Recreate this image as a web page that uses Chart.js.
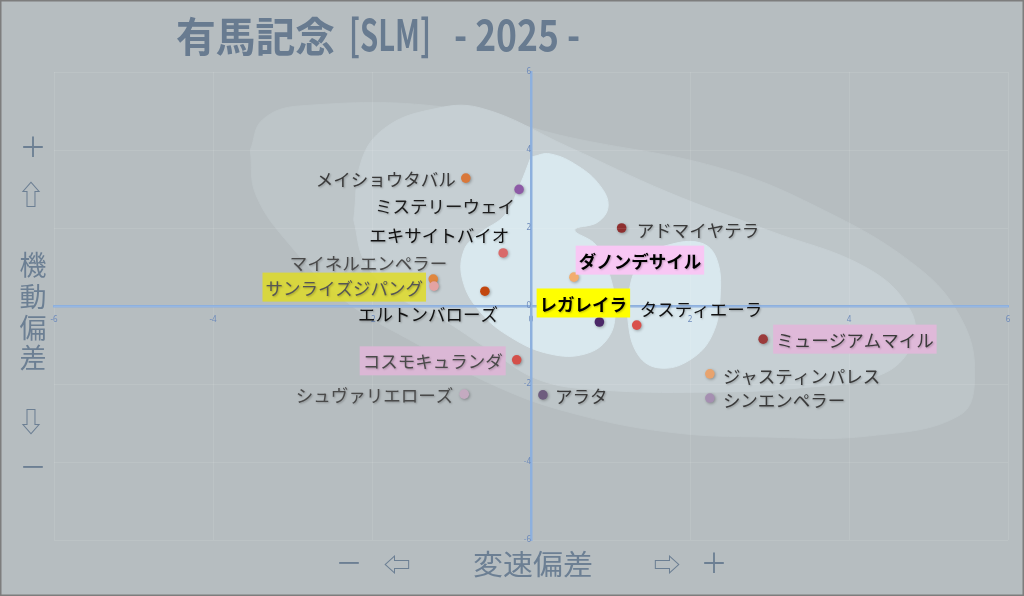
<!DOCTYPE html>
<html>
<head>
<meta charset="utf-8">
<script src="https://cdn.jsdelivr.net/npm/chart.js@4.4.1/dist/chart.umd.min.js"></script>
<style>
html, body { margin: 0; padding: 0; background: #b6bdc0; }
#wrap { width: 1024px; height: 596px; }
</style>
</head>
<body>
<div id="wrap"><canvas id="slmChart" width="1024" height="596"></canvas></div>
<script>
// horses and their deviations (x: 変速偏差, y: 機動偏差)
var horseNames = ['メイショウタバル', 'ミステリーウェイ', 'エキサイトバイオ', 'マイネルエンペラー',
    'サンライズジパング', 'エルトンバローズ', 'レガレイラ', 'ダノンデサイル', 'アドマイヤテラ',
    'タスティエーラ', 'ミュージアムマイル', 'ジャスティンパレス', 'シンエンペラー',
    'コスモキュランダ', 'シュヴァリエローズ', 'アラタ'];
var speedDev = [-0.82, -0.15, -0.35, -1.23, -1.22, -0.58, 0.86, 0.54, 1.14, 1.33, 2.92, 2.25, 2.25, -0.18, -0.84, 0.15];
var mobilityDev = [3.28, 2.99, 1.36, 0.69, 0.51, 0.38, -0.41, 0.74, 2.0, -0.49, -0.85, -1.74, -2.36, -1.38, -2.26, -2.28];
var tickValues = [-6, -4, -2, 0, 2, 4, 6];

// density contours [x, y]
var contourOuter = [[-3.53, 4.0], [-3.38, 4.77], [-2.91, 5.13], [-1.09, 5.10], [0.47, 4.33], [2.34, 3.56],
    [3.60, 2.54], [4.86, 1.0], [5.42, -0.36], [5.58, -1.77], [5.40, -2.79], [4.26, -3.33], [2.97, -3.36],
    [1.72, -3.23], [0.47, -2.72], [-0.47, -2.03], [-1.41, -1.0], [-2.35, 0.15], [-3.03, 1.56], [-3.46, 2.85]];
var contourMiddle = [[-2.23, 2.21], [-2.13, 3.74], [-1.84, 4.56], [-1.27, 5.03], [-0.64, 5.08], [0.47, 4.08],
    [1.72, 2.92], [2.97, 1.95], [4.23, 0.97], [4.77, -0.10], [4.79, -1.0], [4.39, -1.77], [3.38, -2.10],
    [2.13, -2.21], [0.87, -2.15], [0.11, -1.90], [-0.52, -1.13], [-1.14, -0.31], [-1.71, 0.28], [-2.09, 1.13]];
var contourInner = [[0, 3.82], [0.24, 3.90], [0.59, 3.59], [0.87, 3.08], [0.97, 2.56], [0.84, 2.15],
    [0.55, 1.95], [0.82, 1.56], [0.99, 0.79], [1.06, -0.10], [0.97, -0.82], [0.68, -1.23], [0.24, -1.23],
    [-0.24, -0.82], [-0.64, -0.15], [-0.86, 0.67], [-0.84, 1.44], [-0.64, 1.87], [-0.33, 2.33], [-0.14, 3.10]];
var contourInnerRight = [[1.37, 1.23], [1.72, 1.56], [2.13, 1.62], [2.33, 1.23], [2.38, 0.28], [2.28, -0.74],
    [2.0, -1.38], [1.62, -1.59], [1.35, -1.26], [1.22, -0.36], [1.25, 0.54]];

var pointColors = ['#d9783a', '#8d5aa6', '#d96a6a', '#e0873f', '#e3a3a3', '#c2460e', '#4b2868', '#f2ad6e',
    '#8e2f2f', '#d9504c', '#9b3b3b', '#e8a36e', '#a58fb1', '#d4504a', '#c4aac0', '#6e5c7e'];

// label placement next to each point
var labelStyle = [
    {dx: -10, dy: 0, align: 'right', color: '#3a3a3a'},
    {dx: -4, dy: 16, align: 'right', color: '#1e1e1e'},
    {dx: 6, dy: -19, align: 'right', color: '#111'},
    {dx: 14, dy: -17, align: 'right', color: '#4a4a4a'},
    {dx: -11, dy: 1, align: 'right', color: '#555', bg: 'rgba(222,218,40,0.85)'},
    {dx: 13, dy: 22, align: 'right', color: '#111'},
    {dx: -16, dy: -19, align: 'center', color: '#000', bg: '#ffff00', bold: true},
    {dx: 66, dy: -17, align: 'center', color: '#000', bg: '#f8c7f4', bold: true},
    {dx: 15, dy: 1, align: 'left', color: '#3a3a3a'},
    {dx: 3, dy: -17, align: 'left', color: '#111'},
    {dx: 13, dy: 0, align: 'left', color: '#3a3a3a', bg: '#dfb9d9'},
    {dx: 13, dy: 1, align: 'left', color: '#3a3a3a'},
    {dx: 13, dy: 1, align: 'left', color: '#3a3a3a'},
    {dx: -14, dy: 1, align: 'right', color: '#4a4a4a', bg: '#dbb7d5'},
    {dx: -11, dy: 0, align: 'right', color: '#4a4a4a'},
    {dx: 12, dy: 0, align: 'left', color: '#3a3a3a'}
];

var jpFont = '"Noto Sans CJK JP", "DejaVu Sans", sans-serif';

function contourSet(pts, color, ord) {
    var closed = pts.concat([pts[0]]);
    return {
        data: closed.map(function(p) { return {x: p[0], y: p[1]}; }),
        showLine: true,
        fill: 'shape',
        backgroundColor: color,
        borderColor: color,
        borderWidth: 1,
        pointRadius: 0,
        tension: 0.4,
        order: ord
    };
}

// draw text squeezed into a given width
function fitText(ctx, txt, x, y, w) {
    var m = ctx.measureText(txt).width;
    ctx.save();
    ctx.translate(x, y);
    ctx.scale(w / m, 1);
    ctx.fillText(txt, 0, 0);
    ctx.restore();
}

var decorPlugin = {
    id: 'decor',
    beforeDraw: function(chart) {
        var ctx = chart.ctx;
        ctx.save();
        ctx.fillStyle = '#b6bdc0';
        ctx.fillRect(0, 0, chart.width, chart.height);
        ctx.restore();
    },
    beforeDatasetDraw: function(chart, args) {
        // soft shadow under the horse points only
        if (args.index === 4) {
            chart.ctx.save();
            chart.ctx.shadowColor = 'rgba(0,0,0,0.3)';
            chart.ctx.shadowBlur = 3;
            chart.ctx.shadowOffsetX = 1;
            chart.ctx.shadowOffsetY = 1;
        }
    },
    afterDatasetDraw: function(chart, args) {
        if (args.index === 4) {
            chart.ctx.restore();
        }
    },
    afterDraw: function(chart) {
        var ctx = chart.ctx;
        var xs = chart.scales.x, ys = chart.scales.y;
        ctx.save();

        // title
        ctx.fillStyle = '#687b90';
        ctx.textBaseline = 'middle';
        ctx.textAlign = 'left';
        ctx.font = 'bold 41px ' + jpFont;
        fitText(ctx, '有馬記念', 176, 36, 159);
        ctx.font = 'bold 43px ' + jpFont;
        fitText(ctx, '[SLM]', 349, 35, 82);
        fitText(ctx, '- 2025 -', 454, 35, 126);

        // axis captions
        ctx.fillStyle = '#6c7f93';
        ctx.textAlign = 'center';
        ctx.font = '27px ' + jpFont;
        ctx.fillText('＋', 33, 147);
        ctx.fillText('⇧', 31, 195);
        ctx.fillText('機', 33, 265);
        ctx.fillText('動', 33, 297);
        ctx.fillText('偏', 33, 328);
        ctx.fillText('差', 33, 358);
        ctx.fillText('⇩', 31, 422);
        ctx.fillText('－', 33, 467);
        ctx.fillText('－', 349, 563);
        ctx.fillText('⇦', 397, 565);
        ctx.fillText('⇨', 667, 565);
        ctx.fillText('＋', 714, 563);
        ctx.textAlign = 'left';
        ctx.font = '28px ' + jpFont;
        fitText(ctx, '変速偏差', 473, 564, 120);

        // horse labels
        ctx.textBaseline = 'middle';
        horseNames.forEach(function(name, i) {
            var s = labelStyle[i];
            var px = xs.getPixelForValue(speedDev[i]) + s.dx;
            var py = ys.getPixelForValue(mobilityDev[i]) + s.dy;
            ctx.font = (s.bold ? 'bold ' : '') + '17.5px ' + jpFont;
            var w = ctx.measureText(name).width;
            var left = s.align === 'right' ? px - w : (s.align === 'center' ? px - w / 2 : px);
            if (s.bg) {
                ctx.fillStyle = s.bg;
                ctx.fillRect(left - 3, py - 14.5, w + 6, 29);
            }
            ctx.shadowColor = 'rgba(0,0,0,0.25)';
            ctx.shadowBlur = 2;
            ctx.shadowOffsetX = 1;
            ctx.shadowOffsetY = 1;
            ctx.fillStyle = s.color;
            ctx.textAlign = 'left';
            ctx.fillText(name, left, py + 1);
            ctx.shadowColor = 'transparent';
        });

        // frame
        ctx.strokeStyle = '#7d7d7d';
        ctx.lineWidth = 1.5;
        ctx.strokeRect(0.75, 0.75, chart.width - 1.5, chart.height - 1.5);
        ctx.restore();
    }
};

function axisOptions(posKey) {
    var pos = {};
    pos[posKey] = 0;
    return {
        type: 'linear',
        min: -6,
        max: 6,
        position: pos,
        afterBuildTicks: function(axis) {
            axis.ticks = tickValues.map(function(v) { return {value: v}; });
        },
        afterFit: function(axis) {
            if (posKey === 'y') { axis.height = 0; } else { axis.width = 0; }
        },
        grid: {color: 'rgba(255,255,255,0.09)', drawTicks: false, z: 1},
        border: {color: '#8db0de', width: 2.5, z: 1},
        ticks: {
            font: {size: 8, family: 'Noto Sans'},
            color: '#6d8abb',
            padding: posKey === 'y' ? 9 : 6,
            z: 1
        }
    };
}

var ctx = document.getElementById('slmChart').getContext('2d');
var slmChart = new Chart(ctx, {
    type: 'scatter',
    data: {
        datasets: [
            contourSet(contourOuter, '#bdc5c8', 4),
            contourSet(contourMiddle, '#c6cfd3', 3),
            contourSet(contourInner, '#d9e8ee', 2),
            contourSet(contourInnerRight, '#d9e8ee', 2),
            {
                data: speedDev.map(function(v, i) { return {x: v, y: mobilityDev[i]}; }),
                backgroundColor: pointColors,
                borderWidth: 0,
                pointRadius: 4.8,
                order: 0
            }
        ]
    },
    options: {
        responsive: false,
        animation: false,
        devicePixelRatio: 1,
        events: [],
        layout: {padding: {left: 54, right: 16, top: 72, bottom: 56}},
        plugins: {legend: {display: false}, tooltip: {enabled: false}},
        scales: {
            x: axisOptions('y'),
            y: axisOptions('x')
        }
    },
    plugins: [decorPlugin]
});
</script>
</body>
</html>
